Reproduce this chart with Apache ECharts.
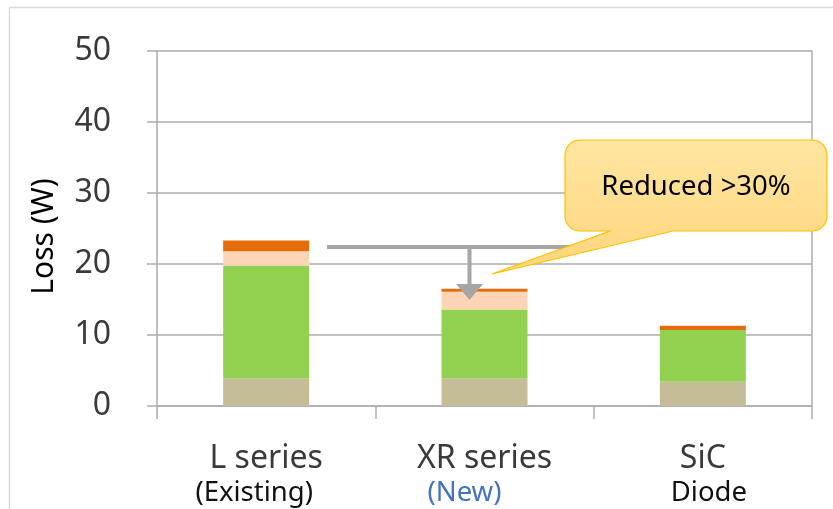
<!DOCTYPE html>
<html>
<head>
<meta charset="utf-8">
<script src="https://cdn.jsdelivr.net/npm/echarts@6/dist/echarts.min.js"></script>
<style>
html,body{margin:0;padding:0;background:#fff;}
#chart{width:833px;height:509px;}
</style>
</head>
<body>
<div id="chart"></div>
<script>
// ---- data ----
const categories = ['L series', 'XR series', 'SiC'];
const subLabels = ['(Existing)', '(New)', 'Diode'];
const tanValues = [3.9, 3.9, 3.4];
const greenValues = [15.9, 9.7, 7.3];
const peachValues = [2.0, 2.5, 0];
const orangeValues = [1.5, 0.4, 0.6];
const yTicks = [0, 10, 20, 30, 40, 50];
const calloutText = 'Reduced >30%';

const chart = echarts.init(document.getElementById('chart'), null, {renderer: 'canvas'});
const gridColor = '#ADADAD';
const subStyle = ['sub0', 'sub1', 'sub2'];

// callout outline (rounded rectangle with a tail)
function calloutPoints(x0, y0, x1, y1, r, tailA, tailB, tip) {
  const pts = [];
  function arc(cx, cy, a0, a1) {
    const n = 8;
    for (let k = 0; k <= n; k++) {
      const a = a0 + (a1 - a0) * k / n;
      pts.push([cx + r * Math.cos(a), cy + r * Math.sin(a)]);
    }
  }
  arc(x0 + r, y0 + r, Math.PI, Math.PI * 1.5);
  arc(x1 - r, y0 + r, Math.PI * 1.5, Math.PI * 2);
  arc(x1 - r, y1 - r, 0, Math.PI * 0.5);
  pts.push([tailB, y1]);
  pts.push(tip);
  pts.push([tailA, y1]);
  arc(x0 + r, y1 - r, Math.PI * 0.5, Math.PI);
  return pts;
}

const option = {
  animation: false,
  backgroundColor: '#ffffff',
  grid: {left: 157, right: 21, top: 51, bottom: 103, containLabel: false},
  xAxis: {
    type: 'category',
    data: categories,
    boundaryGap: true,
    axisLine: {show: true, lineStyle: {color: gridColor, width: 1.5}},
    axisTick: {show: true, length: 13, interval: 0, alignWithLabel: false, lineStyle: {color: gridColor, width: 1.5}},
    axisLabel: {
      margin: 36,
      interval: 0,
      formatter: function (v, i) {
        return '{main|' + v + '}\n{' + subStyle[i] + '|' + subLabels[i] + '}';
      },
      rich: {
        main: {fontFamily: 'Noto Sans', fontSize: 32, color: '#3a3a3a', lineHeight: 34},
        sub0: {fontFamily: 'Noto Sans', fontSize: 27.5, color: '#111', lineHeight: 34, padding: [0, 24, 0, 0]},
        sub1: {fontFamily: 'Noto Sans', fontSize: 27.5, color: '#4472C4', lineHeight: 34, padding: [0, 40, 0, 0]},
        sub2: {fontFamily: 'Noto Sans', fontSize: 27.5, color: '#111', lineHeight: 34, padding: [0, 0, 0, 12]}
      }
    },
    splitLine: {show: false}
  },
  yAxis: [{
    type: 'value',
    min: yTicks[0],
    max: yTicks[yTicks.length - 1],
    interval: yTicks[1] - yTicks[0],
    name: 'Loss (W)',
    nameLocation: 'middle',
    nameRotate: 90,
    nameGap: 98,
    nameTextStyle: {fontFamily: 'Noto Sans', fontSize: 30, color: '#000', padding: [0, 16, 0, 0]},
    axisLine: {show: true, lineStyle: {color: gridColor, width: 1.5}},
    axisTick: {show: true, length: 10, lineStyle: {color: gridColor, width: 1.5}},
    axisLabel: {margin: 46, fontFamily: 'Noto Sans', fontSize: 32, color: '#3a3a3a'},
    splitLine: {show: true, lineStyle: {color: gridColor, width: 1.5}}
  }, {
    type: 'value',
    position: 'right',
    min: yTicks[0],
    max: yTicks[yTicks.length - 1],
    interval: yTicks[1] - yTicks[0],
    axisLine: {show: true, lineStyle: {color: gridColor, width: 1.5}},
    axisTick: {show: false},
    axisLabel: {show: false},
    splitLine: {show: false}
  }],
  series: [
    {name: 'base', type: 'bar', stack: 'loss', data: tanValues, barWidth: 86, itemStyle: {color: '#C4BD97'}},
    {name: 'main', type: 'bar', stack: 'loss', data: greenValues, barWidth: 86, itemStyle: {color: '#92D050'}},
    {name: 'recovery', type: 'bar', stack: 'loss', data: peachValues, barWidth: 86, itemStyle: {color: '#FCD5B5'}},
    {name: 'other', type: 'bar', stack: 'loss', data: orangeValues, barWidth: 86, itemStyle: {color: '#E46C0A'}}
  ],
  graphic: [
    // outer frame
    {type: 'line', shape: {x1: 9.5, y1: 7.5, x2: 833, y2: 7.5}, style: {stroke: '#D9D9D9', lineWidth: 1.5}, z: 100},
    {type: 'line', shape: {x1: 9.5, y1: 7.5, x2: 9.5, y2: 509}, style: {stroke: '#D9D9D9', lineWidth: 1.5}, z: 100},
    // reduction arrow
    {type: 'line', shape: {x1: 327, y1: 247, x2: 572, y2: 247}, style: {stroke: '#A6A6A6', lineWidth: 4}, z: 100},
    {type: 'line', shape: {x1: 469.5, y1: 247, x2: 469.5, y2: 287}, style: {stroke: '#A6A6A6', lineWidth: 4}, z: 100},
    {type: 'polygon', shape: {points: [[456, 284], [483, 284], [469.5, 300]]}, style: {fill: '#A6A6A6'}, z: 100},
    // callout
    {
      type: 'polygon',
      shape: {points: calloutPoints(565, 140, 827, 231, 15, 610, 673, [492, 274])},
      style: {
        fill: new echarts.graphic.LinearGradient(0, 0, 0, 1, [
          {offset: 0, color: '#FFE6A2'},
          {offset: 1, color: '#FFD57C'}
        ]),
        stroke: '#FFC000',
        lineWidth: 1.2
      },
      z: 101
    },
    {
      type: 'text',
      x: 696, y: 187,
      style: {text: calloutText, fontFamily: 'Noto Sans', fontSize: 27.5, fill: '#000', align: 'center', verticalAlign: 'middle'},
      z: 102
    }
  ]
};
chart.setOption(option);
</script>
</body>
</html>
